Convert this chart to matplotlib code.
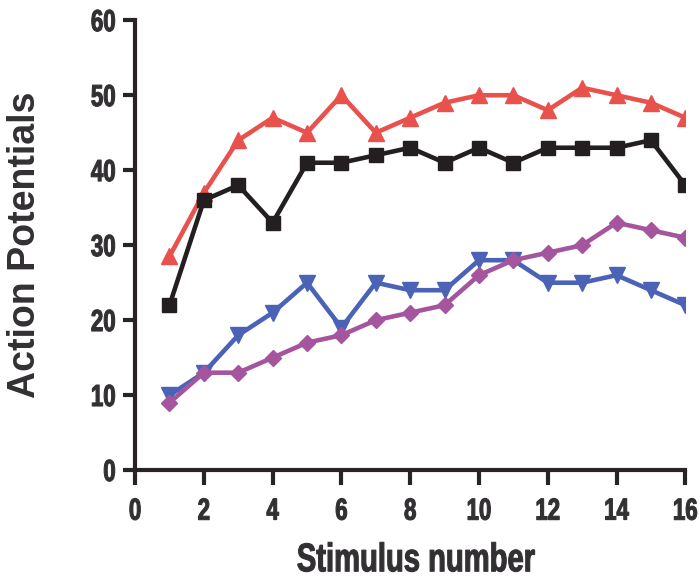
import matplotlib.pyplot as plt
from matplotlib import patheffects
from matplotlib.transforms import Affine2D

stim = list(range(1, 17))
red = [28.5, 37, 44, 47, 45, 50, 45, 47, 49, 50, 50, 48, 51, 50, 49, 47]
black = [22, 36, 38, 33, 41, 41, 42, 43, 41, 43, 41, 43, 43, 43, 44, 38]
blue = [10, 13, 18, 21, 25, 19, 25, 24, 24, 28, 28, 25, 25, 26, 24, 22]
purple = [9, 13, 13, 15, 17, 18, 20, 21, 22, 26, 28, 29, 30, 33, 32, 31]

xticks = [0, 2, 4, 6, 8, 10, 12, 14, 16]
yticks = [0, 10, 20, 30, 40, 50, 60]


class Tall(patheffects.AbstractPathEffect):
    # stretch glyphs upright to fake a narrow bold face (none installed)
    def __init__(self, sy=1.37, anchor=0.5, bold=0.8):
        super().__init__()
        self.sy = sy
        self.anchor = anchor
        self.bold = bold

    def draw_path(self, renderer, gc, tpath, affine, rgbFace=None):
        ext = tpath.get_extents()
        cy = ext.y0 + self.anchor * (ext.y1 - ext.y0)
        t = Affine2D().translate(0, -cy).scale(1, self.sy).translate(0, cy) + affine
        gc0 = renderer.new_gc()
        gc0.copy_properties(gc)
        gc0.set_linewidth(self.bold)
        gc0.set_foreground(rgbFace)
        gc0.set_joinstyle("round")
        renderer.draw_path(gc0, tpath, t, rgbFace)
        gc0.restore()


txt = "#333033"
axc = "#2a2326"

fig = plt.figure(figsize=(7, 5.79), dpi=100)
ax = fig.add_axes([0.193, 0.188, 0.786, 0.777])

ax.plot(stim, red, color="#e9514c", lw=3.3, marker="^", ms=12, zorder=3)
ax.plot(stim, black, color="#231f20", lw=3.3, marker="s", ms=10, zorder=4)
ax.plot(stim, blue, color="#4b63b6", lw=3.3, marker="v", ms=12, zorder=3)
ax.plot(stim, purple, color="#a4559e", lw=3.3, marker="D", ms=8.5, zorder=3)

ax.set_xlim(0, 16)
ax.set_ylim(0, 60)
ax.set_xticks(xticks)
ax.set_yticks(yticks)
ax.set_xticklabels([str(t) for t in xticks], fontfamily="Liberation Sans",
                   fontweight="bold", fontsize=16, color=txt)
ax.set_yticklabels([str(t) for t in yticks], fontfamily="Liberation Sans",
                   fontweight="bold", fontsize=16, color=txt)
for lab in ax.get_xticklabels():
    lab.set_path_effects([Tall(1.37, 1.0)])
for lab in ax.get_yticklabels():
    lab.set_path_effects([Tall(1.37, 0.5)])

for s in ["top", "right"]:
    ax.spines[s].set_visible(False)
for s in ["left", "bottom"]:
    ax.spines[s].set_linewidth(3)
    ax.spines[s].set_color(axc)
ax.tick_params(axis="x", direction="out", length=11, width=3, color=axc, pad=9)
ax.tick_params(axis="y", direction="out", length=9, width=3, color=axc, pad=5)

xl = ax.set_xlabel("Stimulus number", fontfamily="Liberation Sans", fontweight="bold",
                   fontsize=21, color=txt)
xl.set_path_effects([Tall(1.37, 0.0)])
ax.xaxis.set_label_coords(0.51, -0.225)
ax.xaxis.label.set_va("baseline")

ax.set_ylabel("Action Potentials", fontfamily="Liberation Sans", fontweight="bold",
              fontsize=27, color=txt, va="center")
ax.yaxis.set_label_coords(-0.2, 0.5)

fig.savefig("out.png", dpi=100)
